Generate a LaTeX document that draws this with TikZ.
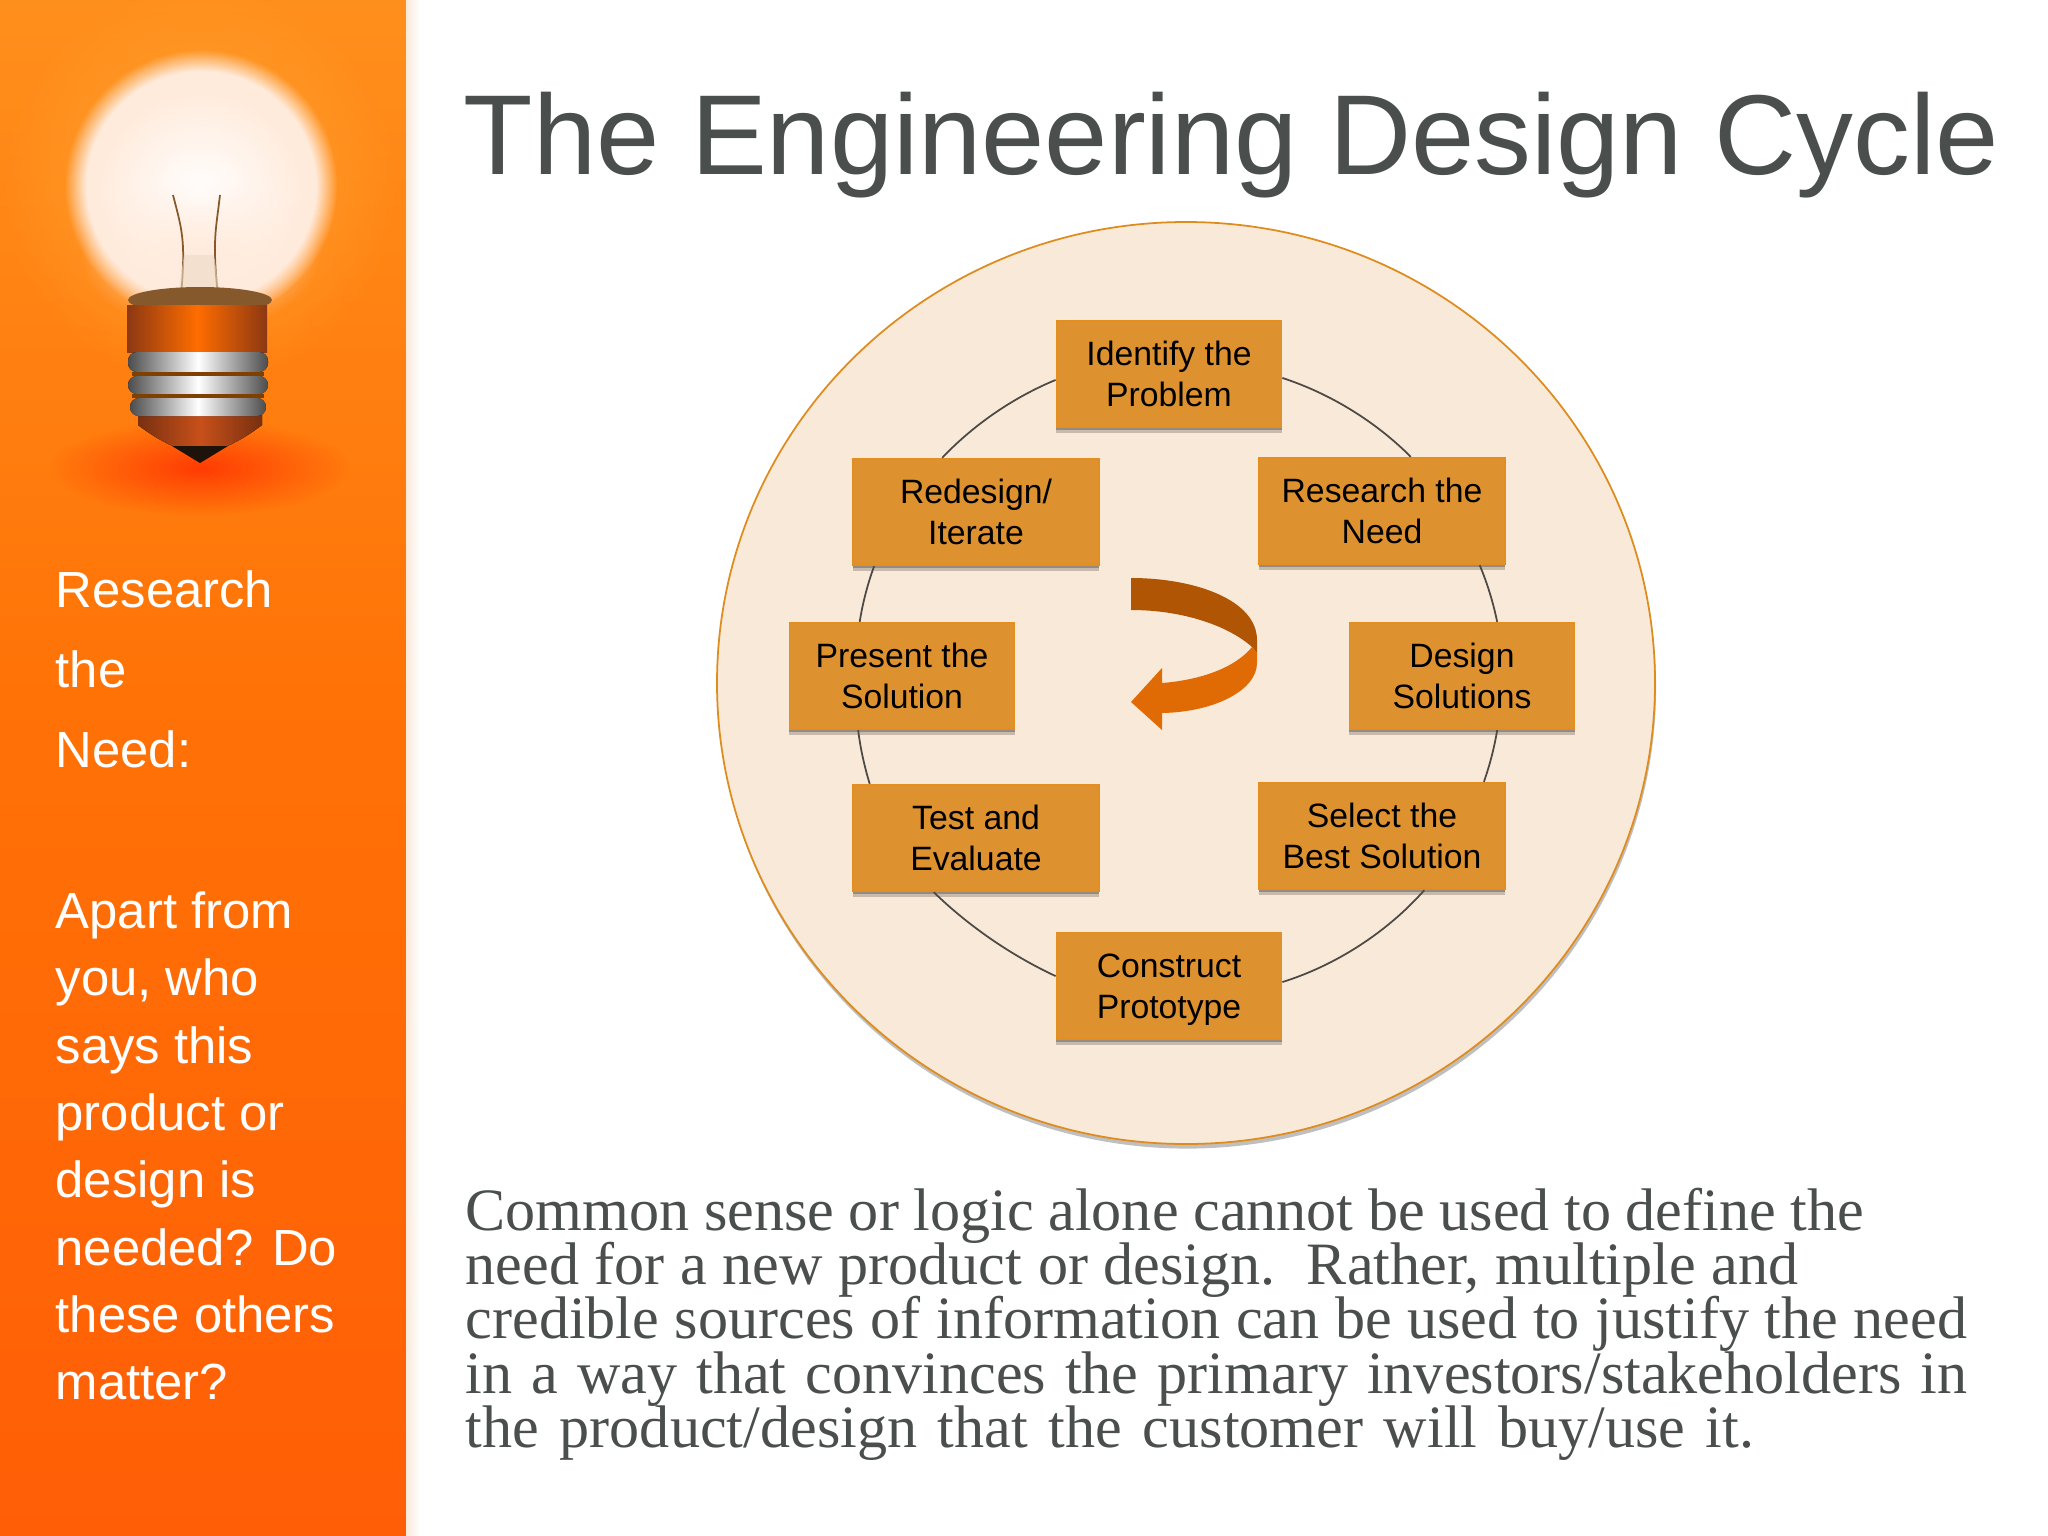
\documentclass[tikz,border=0pt]{standalone}
\usepackage{fontspec}
\setmainfont{Liberation Sans}
\newfontfamily\bodyfont{Liberation Serif}
\usetikzlibrary{shadows,fadings}
\definecolor{panelTop}{HTML}{FF8F1C}
\definecolor{panelMid}{HTML}{FF7206}
\definecolor{panelLow}{HTML}{FF5E06}
\definecolor{titleGrey}{HTML}{4A4F4D}
\definecolor{discFill}{HTML}{F9E9D8}
\definecolor{discEdge}{HTML}{DF8C1E}
\definecolor{boxFill}{HTML}{DE922F}
\definecolor{boxEdge}{HTML}{E48E1F}
\definecolor{ringGrey}{HTML}{4D4A46}
\definecolor{turnDark}{HTML}{B05504}
\definecolor{turnLight}{HTML}{E06B05}
\definecolor{glowWarm}{HTML}{FFA535}
\definecolor{glassPale}{HTML}{FFEBDC}
\definecolor{capRed}{HTML}{C8501A}
\pgfdeclareradialshading{softshade}{\pgfpoint{0bp}{0bp}}{color(0bp)=(transparent!0); color(21bp)=(transparent!0); color(25bp)=(transparent!100); color(50bp)=(transparent!100)}
\pgfdeclarefading{softedge}{\pgfuseshading{softshade}}
\tikzfading[name=glowfade, inner color=transparent!0, outer color=transparent!100]
\newcommand{\bodyline}[2]{\makebox[#1pt][s]{#2}}
\newcommand{\tightlines}{\lineskiplimit=-20pt\relax}
\tikzset{
   stepbox/.style={draw=boxEdge, line width=0.5pt, fill=boxFill, align=center, inner sep=0pt,
      font=\fontsize{9.6}{11.5}\selectfont,
      drop shadow={shadow xshift=0pt, shadow yshift=-1.7pt, opacity=.2, fill=black},
      drop shadow={shadow xshift=0pt, shadow yshift=-0.9pt, opacity=.25, fill=black}},
   widebox/.style={stepbox, minimum width=70pt, minimum height=30.3pt},
   narrowbox/.style={stepbox, minimum width=64pt, minimum height=30.3pt},
   ringarc/.style={draw=ringGrey, line width=0.5pt, looseness=0.85},
   sidetext/.style={anchor=north west, inner sep=0pt, align=left, text=white},
   thread/.style={left color=#1!60!black, right color=#1!60!black, middle color=white, rounded corners=2.5pt}
}
\begin{document}
\begin{tikzpicture}[x=0.01cm,y=-0.01cm]
   \useasboundingbox (0,0) rectangle (2048,1536);
   \fill[white] (0,0) rectangle (2048,1536);

   % side panel
   \fill[top color=panelTop, bottom color=panelMid] (0,0) rectangle (406,700);
   \fill[top color=panelMid, bottom color=panelLow] (0,700) rectangle (406,1536);
   \fill[left color=discFill, right color=white] (406,0) rectangle (420,1536);

   % lamp
   \fill[glowWarm, path fading=glowfade] (200,185) circle (200);
   \fill[glassPale, path fading=softedge] (201,186) circle (136);
   \fill[white, path fading=glowfade] (200,195) circle (105);
   \fill[glassPale, path fading=glowfade] (200,255) ellipse [x radius=120, y radius=75];
   \fill[red!70!orange, opacity=.75, path fading=glowfade] (200,468) ellipse [x radius=150, y radius=48];
   \draw[brown!70!black, line width=0.5pt] (173,195) .. controls (182,230) and (186,240) .. (181,296);
   \draw[brown!70!black, line width=0.5pt] (220,195) .. controls (216,230) and (212,240) .. (218,296);
   \fill[white!70!brown, opacity=.6] (178,296) -- (184,255) -- (214,255) -- (220,296) -- cycle;
   \fill[brown!70!black] (200,300) ellipse [x radius=72, y radius=13];
   \fill[left color=capRed!70!black, right color=capRed!70!black, middle color=orange!85!red] (127,305) -- (267,305) -- (267,352) -- (127,352) -- cycle;
   \fill[left color=capRed!60!black, right color=capRed!60!black, middle color=capRed] (138,405) -- (262,405) -- (262,425) .. controls (240,442) and (220,450) .. (210,452) -- (190,452) .. controls (180,450) and (160,442) .. (138,425) -- cycle;
   \fill[thread=gray] (128,352) rectangle (268,372);
   \fill[orange!50!black] (132,372) rectangle (264,376);
   \fill[thread=gray] (128,376) rectangle (268,394);
   \fill[orange!50!black] (132,394) rectangle (264,398);
   \fill[thread=gray] (130,398) rectangle (266,416);
   \fill[black!85!brown] (172,446) -- (228,446) -- (200,463) -- cycle;

   \node[sidetext, font=\fontsize{14.45}{22.7}\selectfont] (needhead) at (55,570) {Research\\the\\Need:};
   \node[sidetext, font=\fontsize{14.45}{19.15}\selectfont] (needtext) at (55,891) {Apart from\\you, who\\says this\\product or\\design is\\needed? Do\\these others\\matter?};

   \node[anchor=base west, inner sep=0pt, text=titleGrey, font=\fontsize{32.32}{36}\selectfont] (title) at (463,174) {The Engineering Design Cycle};

   % disc
   \draw[draw=discEdge, line width=0.5pt, fill=discFill, drop shadow={shadow xshift=0.3pt, shadow yshift=-1.3pt, opacity=.25, fill=black}] (1186,683) ellipse [x radius=469, y radius=461];

   % boxes
   \node[narrowbox] (identify) at (1169,374) {Identify the\\Problem};
   \node[widebox] (research) at (1382,511) {Research the\\Need};
   \node[narrowbox] (design) at (1462,676) {Design\\Solutions};
   \node[widebox] (select) at (1382,836) {Select the\\Best Solution};
   \node[narrowbox] (construct) at (1169,986) {Construct\\\smash{Prototype}};
   \node[widebox] (test) at (976,838) {Test and\\Evaluate};
   \node[narrowbox] (present) at (902,676) {Present the\\Solution};
   \node[widebox] (redesign) at (976,512) {Redesign/\\Iterate};

   % ring
   \draw[ringarc] (identify.-2.5) to[bend left=13.5] (research.62);
   \draw[ringarc] (research.-29) to[bend left=5.5] (design.57);
   \draw[ringarc] (design.-57) to[bend left=5] (select.28);
   \draw[ringarc] (select.-52) to[bend left=15.5] (construct.2);
   \draw[ringarc] (construct.175.5) to[bend left=9.5] (test.232);
   \draw[ringarc] (test.153) to[bend left=5] (present.231);
   \draw[ringarc] (present.128) to[bend left=5.5] (redesign.208);
   \draw[ringarc] (redesign.122) to[bend left=12] (identify.183.5);

   % turn arrow
   \fill[turnDark] (1131,578) .. controls (1195,578) and (1257,600) .. (1257,640) -- (1257,653) -- (1252,647) .. controls (1230,627) and (1185,610) .. (1131,610) -- cycle;
   \fill[turnLight] (1252,647) -- (1257,653) -- (1257,663) .. controls (1257,690) and (1215,712) .. (1162,713) -- (1162,730) -- (1131,702) -- (1162,668) -- (1162,683) .. controls (1200,680) and (1235,668) .. (1252,647) -- cycle;

   \node[anchor=north west, inner sep=0pt, align=left, text=titleGrey, font=\bodyfont\fontsize{17.1}{15.45}\selectfont\tightlines] (body) at (465,1187) {\bodyline{397.6}{Common sense or logic alone cannot be used to define the}\\\bodyline{379}{need for a new product or design.\ \ Rather, multiple and}\\\bodyline{427}{credible sources of information can be used to justify the need}\\\bodyline{427}{in a way that convinces the primary investors/stakeholders in}\\\bodyline{366.4}{the product/design that the customer will buy/use it.}};
\end{tikzpicture}
\end{document}
